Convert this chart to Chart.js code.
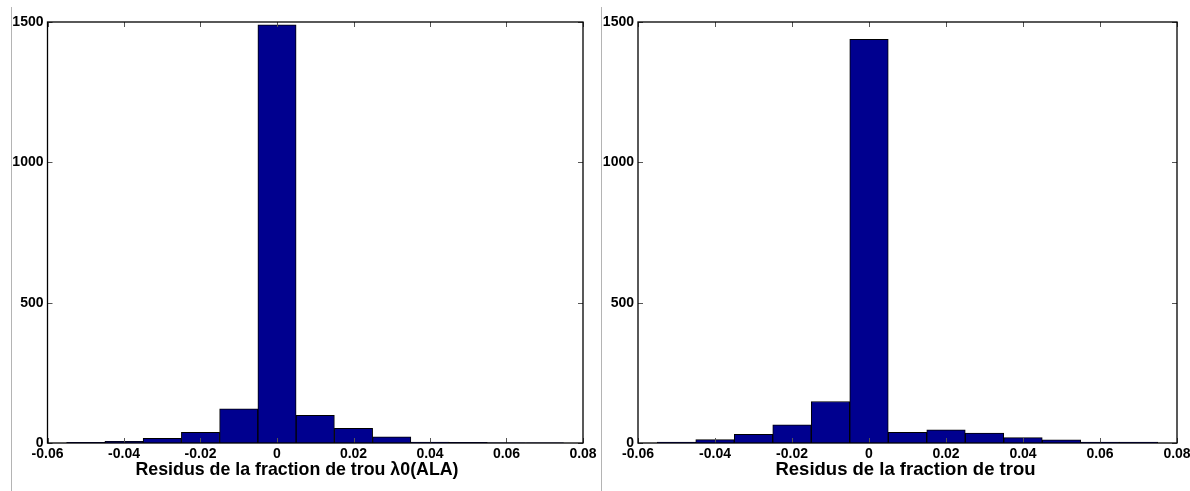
<!DOCTYPE html>
<html>
<head>
<meta charset="utf-8">
<script src="https://cdn.jsdelivr.net/npm/chart.js@4.4.0/dist/chart.umd.min.js"></script>
<style>
  body { margin: 0; background: #fff; }
  #wrap { position: relative; width: 1190px; height: 491px; overflow: hidden; }
  .panel { position: absolute; top: 0; height: 491px; }
  #left { left: 0; width: 601px; }
  #right { left: 601px; width: 589px; }
  .sep { position: absolute; top: 7px; bottom: 0; width: 1px; background: #b4b4b4; }
</style>
</head>
<body>
<div id="wrap">
  <div class="panel" id="left"><canvas id="chartLeft"></canvas></div>
  <div class="panel" id="right"><canvas id="chartRight"></canvas></div>
  <div class="sep" style="left:11px"></div>
  <div class="sep" style="left:601px"></div>
</div>
<script>
// histogram bins (centres), width 0.01
const binCenters = [-0.05, -0.04, -0.03, -0.02, -0.01, 0, 0.01, 0.02, 0.03, 0.04, 0.05, 0.06, 0.07]
const countsALA = [2, 6, 17, 38, 122, 1490, 99, 52, 22, 3, 2, 1, 1]
const countsTrou = [3, 12, 31, 65, 148, 1438, 38, 47, 35, 19, 11, 3, 3]
const xTicks = [-0.06, -0.04, -0.02, 0, 0.02, 0.04, 0.06, 0.08]
const yTicks = [0, 500, 1000, 1500]
const titleALA = 'Residus de la fraction de trou \u03bb0(ALA)'
const titleTrou = 'Residus de la fraction de trou'

const FONT = '"Liberation Sans", Arial, Helvetica, sans-serif'

function fmtX(v) {
  if (Math.abs(v) < 1e-9) return '0'
  return v.toFixed(2)
}

// matlab style box with inward ticks on all four sides
const boxPlugin = {
  id: 'matlabBox',
  afterDatasetsDraw(chart) {
    const ctx = chart.ctx
    const a = chart.chartArea
    const x = chart.scales.x
    const y = chart.scales.y
    ctx.save()
    ctx.strokeStyle = '#555'
    ctx.lineWidth = 1
    ctx.beginPath()
    xTicks.forEach(v => {
      let px = Math.round(x.getPixelForValue(v)) + 0.5
      ctx.moveTo(px, a.bottom); ctx.lineTo(px, a.bottom - 5)
      ctx.moveTo(px, a.top); ctx.lineTo(px, a.top + 5)
    })
    yTicks.forEach(v => {
      let py = Math.round(y.getPixelForValue(v)) + 0.5
      ctx.moveTo(a.left, py); ctx.lineTo(a.left + 5, py)
      ctx.moveTo(a.right, py); ctx.lineTo(a.right - 5, py)
    })
    ctx.stroke()
    ctx.strokeStyle = '#000'
    ctx.lineWidth = 1.3
    ctx.strokeRect(a.left, a.top, a.right - a.left, a.bottom - a.top)
    ctx.restore()
  }
}

// yWidth: room for the y labels, plotRight: gap right of the plot,
// padRight: layout padding that decides where the bottom title is centred
function makeChart(id, counts, title, titleSize, yWidth, plotRight, padRight) {
  let ctx = document.getElementById(id).getContext('2d')
  return new Chart(ctx, {
    type: 'bar',
    data: {
      datasets: [{
        data: binCenters.map((c, i) => ({x: c, y: counts[i]})),
        backgroundColor: '#00008f',
        borderColor: '#000',
        borderWidth: 1,
        barPercentage: 1,
        categoryPercentage: 1
      }]
    },
    options: {
      responsive: true,
      maintainAspectRatio: false,
      animation: false,
      layout: { padding: { left: 0, right: padRight, top: 22, bottom: 0 } },
      plugins: {
        legend: { display: false },
        tooltip: { enabled: false },
        title: {
          display: true,
          position: 'bottom',
          text: title,
          color: '#000',
          font: { family: FONT, size: titleSize, weight: 'bold', lineHeight: 1.2 },
          padding: { top: 28 - 1.2 * titleSize - 10.3, bottom: 10.3 }
        }
      },
      scales: {
        x: {
          type: 'linear',
          min: -0.06,
          max: 0.08,
          offset: false,
          grid: { display: false, drawTicks: false, offset: false },
          border: { display: false },
          afterBuildTicks: scale => { scale.ticks = xTicks.map(v => ({value: v})) },
          afterFit: scale => {
            scale.height = 20
            scale.paddingLeft = 0
            scale.paddingRight = plotRight
          },
          ticks: {
            color: '#000',
            padding: 3,
            maxRotation: 0,
            autoSkip: false,
            font: { family: FONT, size: 14, weight: 'bold' },
            callback: v => fmtX(v)
          }
        },
        y: {
          min: 0,
          max: 1500,
          grid: { display: false, drawTicks: false },
          border: { display: false },
          afterBuildTicks: scale => { scale.ticks = yTicks.map(v => ({value: v})) },
          afterFit: scale => { scale.width = yWidth },
          ticks: {
            color: '#000',
            padding: 4,
            font: { family: FONT, size: 14, weight: 'bold' },
            callback: v => String(v)
          }
        }
      }
    },
    plugins: [boxPlugin]
  })
}

makeChart('chartLeft', countsALA, titleALA, 17.8, 47.5, 18, 7)
makeChart('chartRight', countsTrou, titleTrou, 18.5, 37, 13, -20)
</script>
</body>
</html>
